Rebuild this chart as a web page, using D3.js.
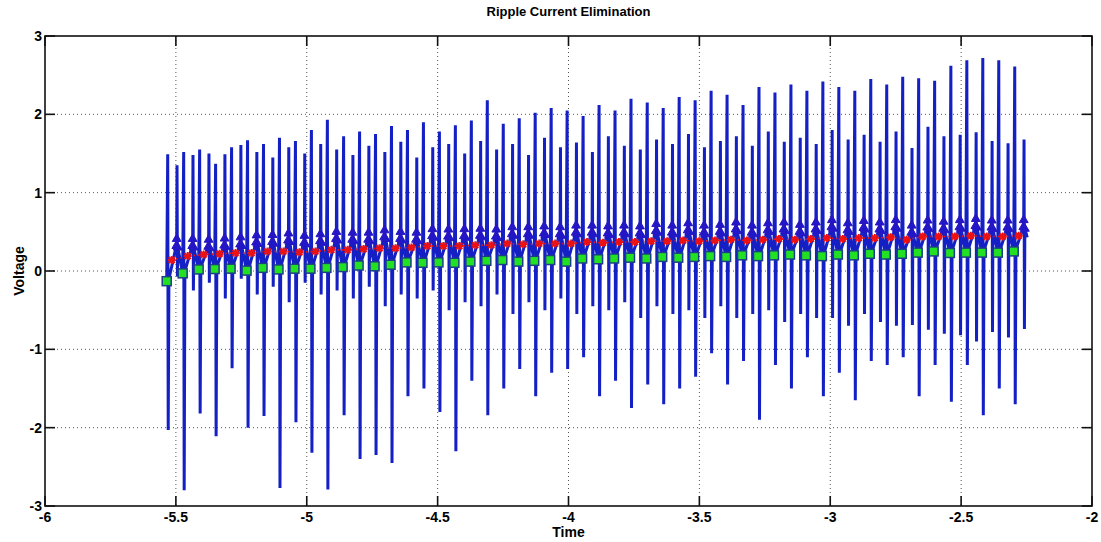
<!DOCTYPE html>
<html><head><meta charset="utf-8">
<script src="https://cdn.jsdelivr.net/npm/d3@7"></script>
<style>
body{margin:0;background:#fff}
text{font-family:"Liberation Sans",Arial,Helvetica,sans-serif;font-weight:bold;fill:#000}
</style>
</head><body>
<svg id="chart" width="1101" height="542"></svg>
<script>
// Start time of each switching cycle (s)
const cycleTime = [-5.535,-5.474,-5.413,-5.352,-5.291,-5.230,-5.169,-5.108,-5.047,-4.986,
  -4.925,-4.863,-4.802,-4.741,-4.680,-4.619,-4.558,-4.497,-4.436,-4.375,
  -4.314,-4.253,-4.192,-4.131,-4.070,-4.009,-3.948,-3.887,-3.826,-3.765,
  -3.703,-3.642,-3.581,-3.520,-3.459,-3.398,-3.337,-3.276,-3.215,-3.154,
  -3.093,-3.032,-2.971,-2.910,-2.849,-2.788,-2.727,-2.666,-2.605,-2.543,
  -2.482,-2.421,-2.360,-2.299];
// Valley of the ripple at each cycle start (green squares)
const valleyLevel = [-0.13,-0.03,0.02,0.025,0.03,0.005,0.04,0.02,0.03,0.03,
  0.04,0.05,0.07,0.06,0.08,0.11,0.105,0.11,0.105,0.12,
  0.13,0.14,0.12,0.13,0.14,0.12,0.16,0.15,0.16,0.17,
  0.16,0.18,0.17,0.18,0.19,0.18,0.20,0.19,0.20,0.21,
  0.20,0.19,0.21,0.20,0.22,0.21,0.22,0.235,0.25,0.23,
  0.235,0.235,0.235,0.25];
// Cycle mean of the ripple (red stars)
const meanLevel = [0.14,0.19,0.21,0.22,0.23,0.23,0.25,0.25,0.24,0.25,
  0.27,0.27,0.28,0.29,0.29,0.30,0.32,0.32,0.32,0.33,
  0.33,0.35,0.34,0.35,0.35,0.35,0.37,0.36,0.37,0.37,
  0.38,0.38,0.39,0.38,0.39,0.40,0.39,0.40,0.41,0.40,
  0.41,0.42,0.41,0.42,0.42,0.43,0.40,0.44,0.44,0.44,
  0.45,0.44,0.44,0.45];
// Ripple crest in each cycle (blue triangles)
const peakLevel = [0.41,0.41,0.40,0.415,0.43,0.455,0.46,0.48,0.45,0.47,
  0.50,0.49,0.49,0.52,0.50,0.49,0.535,0.53,0.535,0.54,
  0.53,0.56,0.56,0.57,0.56,0.58,0.58,0.57,0.58,0.57,
  0.60,0.58,0.61,0.58,0.59,0.62,0.58,0.61,0.62,0.59,
  0.62,0.65,0.61,0.64,0.62,0.65,0.58,0.645,0.63,0.65,
  0.665,0.645,0.645,0.65];
// Switching transient at the cycle start: overshoot and undershoot
const spikeHigh = [1.49,1.52,1.55,1.37,1.58,1.67,1.62,1.70,1.66,1.80,
  1.93,1.72,1.78,1.75,1.85,1.80,1.90,1.78,1.86,1.92,
  2.18,1.88,1.95,2.02,2.08,2.05,1.98,2.12,2.05,2.20,
  2.15,2.08,2.22,2.18,2.30,2.25,2.12,2.35,2.28,2.38,
  2.30,2.42,2.35,2.30,2.45,2.38,2.48,2.46,2.43,2.62,
  2.69,2.72,2.69,2.61];
const spikeLow = [-2.03,-2.80,-1.82,-2.11,-1.24,-2.00,-1.85,-2.77,-1.93,-2.32,
  -2.79,-1.84,-2.40,-2.35,-2.45,-1.60,-1.50,-1.80,-2.30,-1.40,
  -1.84,-1.50,-1.25,-1.60,-1.30,-1.25,-1.10,-1.60,-1.40,-1.75,
  -1.45,-1.70,-1.50,-1.35,-1.05,-1.45,-1.15,-1.90,-1.20,-1.50,
  -1.10,-1.60,-1.30,-1.65,-1.15,-1.20,-1.10,-1.60,-1.20,-1.67,
  -1.20,-1.84,-1.50,-1.70];
// Switching transient at the crest
const crestSpikeHigh = [1.35,1.48,1.50,1.49,1.61,1.52,1.45,1.58,1.50,1.62,
  1.55,1.48,1.60,1.52,1.65,1.45,1.58,1.62,1.50,1.66,
  1.55,1.62,1.48,1.70,1.58,1.64,1.52,1.72,1.60,1.55,
  1.68,1.62,1.75,1.58,1.66,1.72,1.60,1.78,1.65,1.70,
  1.62,1.80,1.68,1.74,1.65,1.78,1.57,1.84,1.72,1.74,
  1.77,1.66,1.63,1.68];
const crestSpikeLow = [-0.07,-0.25,-0.15,-0.35,-0.10,-0.30,-0.20,-0.40,-0.15,-0.30,
  -0.25,-0.35,-0.20,-0.45,-0.30,-0.35,-0.25,-0.50,-0.40,-0.45,
  -0.30,-0.55,-0.40,-0.50,-0.35,-0.55,-0.45,-0.50,-0.40,-0.60,
  -0.45,-0.55,-0.50,-0.60,-0.45,-0.60,-0.55,-0.50,-0.65,-0.55,
  -0.60,-0.60,-0.70,-0.55,-0.65,-0.70,-0.69,-0.75,-0.80,-0.82,
  -0.90,-0.78,-0.85,-0.74];

const xTicks = [-6,-5.5,-5,-4.5,-4,-3.5,-3,-2.5,-2];
const yTicks = [-3,-2,-1,0,1,2,3];
const xTickLabels = ["-6","-5.5","-5","-4.5","-4","-3.5","-3","-2.5","-2"];
const yTickLabels = ["-3","-2","-1","0","1","2","3"];

const svg = d3.select("#chart");
const L = 45, R = 1092, T = 36, B = 506;
const x = d3.scaleLinear().domain([-6, -2]).range([L, R]);
const y = d3.scaleLinear().domain([-3, 3]).range([B, T]);
const dx = x.invert(L + 1) - x.invert(L); // one pixel in time units

// grid
const grid = svg.append("g");
grid.selectAll("line.gx").data(xTicks.slice(1, -1)).join("line")
  .attr("x1", d => x(d)).attr("x2", d => x(d)).attr("y1", T).attr("y2", B)
  .attr("stroke", "#555").attr("stroke-width", 1).attr("stroke-dasharray", "1,3");
grid.selectAll("line.gy").data(yTicks.slice(1, -1)).join("line")
  .attr("y1", d => y(d)).attr("y2", d => y(d)).attr("x1", L).attr("x2", R)
  .attr("stroke", "#555").attr("stroke-width", 1).attr("stroke-dasharray", "1,3");

// ripple waveform
const wave = [];
const crestMarks = [];
cycleTime.forEach((t, i) => {
  wave.push([t, valleyLevel[i]]);
  wave.push([t + 1 * dx, spikeHigh[i]]);
  wave.push([t + 1.5 * dx, spikeLow[i]]);
  wave.push([t + 2.2 * dx, valleyLevel[i] + 0.03]);
  const a = [t + 9.6 * dx, peakLevel[i] - 0.09];
  const b = [t + 10 * dx, peakLevel[i]];
  wave.push(a, b);
  wave.push([t + 10.3 * dx, crestSpikeHigh[i]]);
  wave.push([t + 10.7 * dx, crestSpikeLow[i]]);
  const c = [t + 11.1 * dx, peakLevel[i] - 0.11];
  wave.push(c);
  crestMarks.push(a, b, c);
  if (i === cycleTime.length - 1) wave.push([t + 13.5 * dx, peakLevel[i] - 0.22]);
});
const line = d3.line().x(d => x(d[0])).y(d => y(d[1]));
const blue = "#1420c4";
svg.append("path").attr("d", line(wave)).attr("fill", "none")
  .attr("stroke", blue).attr("stroke-width", 3).attr("stroke-linejoin", "miter");
svg.append("g").selectAll("path").data(crestMarks).join("path")
  .attr("d", d3.symbol(d3.symbolTriangle, 34))
  .attr("transform", d => `translate(${x(d[0])},${y(d[1])})`)
  .attr("fill", "#2018c8").attr("stroke", "#2a14c0").attr("stroke-width", 1);

// cycle mean
const meanPts = cycleTime.map((t, i) => [t + 5 * dx, meanLevel[i]]);
svg.append("path").attr("d", line(meanPts)).attr("fill", "none")
  .attr("stroke", "#ee1111").attr("stroke-width", 1.6).attr("stroke-dasharray", "1.5,3");
const star = "M-4,0L4,0M0,-4L0,4M-3,-3L3,3M-3,3L3,-3";
svg.append("g").selectAll("path").data(meanPts).join("path")
  .attr("d", star)
  .attr("transform", d => `translate(${x(d[0])},${y(d[1])})`)
  .attr("fill", "none").attr("stroke", "#ee1111").attr("stroke-width", 2);

// valleys
svg.append("g").selectAll("rect").data(cycleTime.map((t, i) => [t, valleyLevel[i]])).join("rect")
  .attr("x", d => x(d[0]) - 4.5).attr("y", d => y(d[1]) - 4.5)
  .attr("width", 9).attr("height", 9)
  .attr("fill", "#22e022").attr("stroke", "#1b3f86").attr("stroke-width", 1.5);

// axes box and inward ticks
svg.append("rect").attr("x", L).attr("y", T).attr("width", R - L).attr("height", B - T)
  .attr("fill", "none").attr("stroke", "#111").attr("stroke-width", 1.6);
const tk = 10;
const ticks = svg.append("g").attr("stroke", "#111").attr("stroke-width", 1.6);
xTicks.forEach(v => {
  ticks.append("line").attr("x1", x(v)).attr("x2", x(v)).attr("y1", B).attr("y2", B - tk);
  ticks.append("line").attr("x1", x(v)).attr("x2", x(v)).attr("y1", T).attr("y2", T + tk);
});
yTicks.forEach(v => {
  ticks.append("line").attr("y1", y(v)).attr("y2", y(v)).attr("x1", L).attr("x2", L + tk);
  ticks.append("line").attr("y1", y(v)).attr("y2", y(v)).attr("x1", R).attr("x2", R - tk);
});

// tick labels
svg.append("g").selectAll("text").data(xTicks).join("text")
  .attr("x", d => x(d)).attr("y", B + 16).attr("text-anchor", "middle")
  .attr("font-size", 14).text((d, i) => xTickLabels[i]);
svg.append("g").selectAll("text").data(yTicks).join("text")
  .attr("x", L - 3).attr("y", d => y(d) + 5).attr("text-anchor", "end")
  .attr("font-size", 14).text((d, i) => yTickLabels[i]);

// titles
svg.append("text").attr("x", (L + R) / 2).attr("y", 16).attr("text-anchor", "middle")
  .attr("font-size", 13).text("Ripple Current Elimination");
svg.append("text").attr("x", (L + R) / 2).attr("y", 537).attr("text-anchor", "middle")
  .attr("font-size", 14).text("Time");
svg.append("text").attr("transform", `translate(24,${(T + B) / 2}) rotate(-90)`)
  .attr("text-anchor", "middle").attr("font-size", 14).text("Voltage");
</script>
</body></html>
